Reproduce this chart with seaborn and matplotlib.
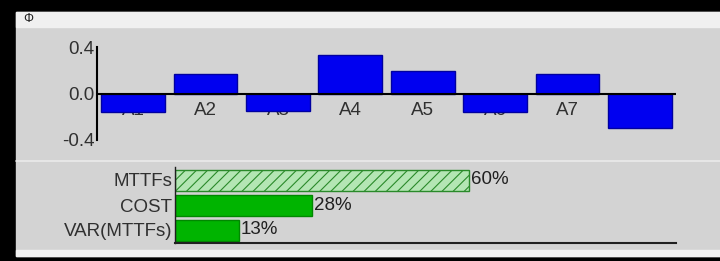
import numpy as np
import pandas as pd
import matplotlib
matplotlib.use("Agg")
import matplotlib.pyplot as plt
from matplotlib.patches import Rectangle
import seaborn as sns

# 数据
alternatives = ["A1", "A2", "A3", "A4", "A5", "A6", "A7", "A8"]
phi_values = [-0.16, 0.17, -0.15, 0.33, 0.19, -0.16, 0.165, -0.30]
criteria = ["MTTFs", "COST", "VAR(MTTFs)"]
weights = [60, 28, 13]

sns.set_theme(style="white")
plt.rcParams['font.family'] = ['Liberation Sans', 'DejaVu Sans']
plt.rcParams['hatch.color'] = "#2a8a2a"
plt.rcParams['hatch.linewidth'] = 0.8

W, H = 720, 261
FS = 13.5
fig = plt.figure(figsize=(W / 100, H / 100), dpi=100, facecolor="black")


def box(x0, y0, x1, y1):
    # 像素坐标(左上原点) -> figure坐标
    return [x0 / W, 1 - y1 / H, (x1 - x0) / W, (y1 - y0) / H]


# 背景面板
bg = fig.add_axes([0, 0, 1, 1])
bg.set_xlim(0, W)
bg.set_ylim(H, 0)
bg.axis("off")
bg.add_patch(Rectangle((16, 12), W - 16, 244, color="#d3d3d3"))
bg.add_patch(Rectangle((16, 12), W - 16, 15, color="#f0f0f0"))
bg.add_patch(Rectangle((16, 250), W - 16, 6, color="#f2f2f2"))
bg.plot([16, W], [161, 161], color="#ebebeb", lw=1.2)
bg.text(28, 19, "\u03a6", fontsize=9, ha="center", va="center", color="#202020")

# 上方: Φ 柱状图
ax1 = fig.add_axes(box(97, 47, 676, 140))
ax1.patch.set_alpha(0)
df1 = pd.DataFrame({"alt": alternatives, "phi": phi_values})
sns.barplot(data=df1, x="alt", y="phi", color="#0000f0", saturation=1,
            width=0.88, edgecolor="#0000a0", linewidth=1, ax=ax1, zorder=3)
ax1.set_xlim(-0.5, 7.5)
ax1.set_ylim(-0.4, 0.4)
ax1.axhline(0, color="black", lw=1.5, zorder=4)
for i, name in enumerate(alternatives):
    ax1.text(i, -0.145, name, ha="center", va="center", fontsize=FS,
             color="#303030", zorder=1)
ax1.set_xticks([])
ax1.set_yticks([-0.4, 0.0, 0.4])
ax1.set_yticklabels(["-0.4", "0.0", "0.4"], fontsize=FS, color="#303030")
ax1.tick_params(axis="y", length=0, pad=2)
ax1.set_xlabel("")
ax1.set_ylabel("")
for s in ["top", "right", "bottom"]:
    ax1.spines[s].set_visible(False)
ax1.spines["left"].set_color("black")
ax1.spines["left"].set_linewidth(1.5)

# 下方: 权重条形图
ax2 = fig.add_axes(box(175, 167, 676, 243))
ax2.patch.set_alpha(0)
df2 = pd.DataFrame({"crit": criteria, "w": weights})
sns.barplot(data=df2, x="w", y="crit", orient="h", color="#00b400",
            saturation=1, width=0.84, edgecolor="#008800", linewidth=1, ax=ax2)
first = ax2.patches[0]
first.set_facecolor("#b4e6b4")
first.set_edgecolor("#2a8a2a")
first.set_hatch("///")
ax2.set_xlim(0, 102.2)
ax2.set_ylim(2.52, -0.52)
for i, v in enumerate(weights):
    ax2.text(v + 0.4, i, f"{v}%", ha="left", va="center", fontsize=FS,
             color="#202020")
ax2.set_xticks([])
ax2.set_yticks(range(len(criteria)))
ax2.set_yticklabels(criteria, fontsize=FS, color="#303030")
ax2.tick_params(axis="y", length=0, pad=2)
ax2.set_xlabel("")
ax2.set_ylabel("")
for s in ["top", "right"]:
    ax2.spines[s].set_visible(False)
ax2.spines["bottom"].set_color("#202020")
ax2.spines["bottom"].set_linewidth(1.5)
ax2.spines["left"].set_color("#202020")
ax2.spines["left"].set_linewidth(1)

fig.savefig("out.png", dpi=100, facecolor="black")
